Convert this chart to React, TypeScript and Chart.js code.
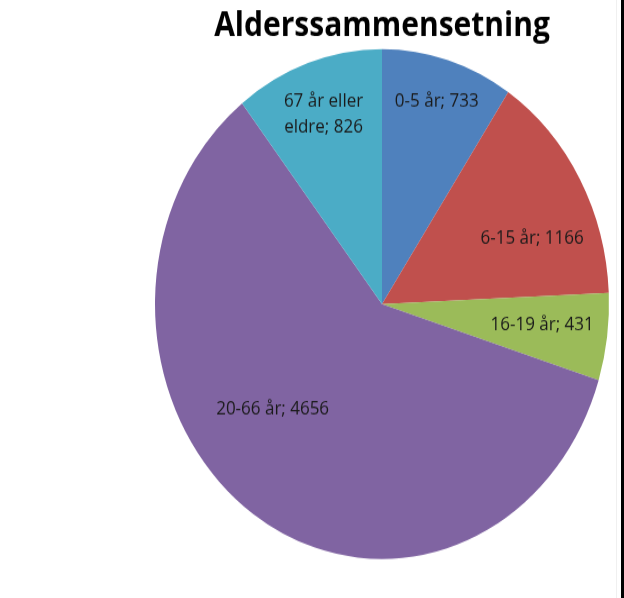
import React, { useEffect, useRef } from "react";
import { Chart, registerables } from "chart.js";

Chart.register(...registerables);

const categories = ["0-5 år", "6-15 år", "16-19 år", "20-66 år", "67 år eller eldre"];
const values = [733, 1166, 431, 4656, 826];
const colors = ["#4F81BD", "#C0504D", "#9BBB59", "#8064A2", "#4BACC6"];
const labelLines = [["0-5 år; 733"], ["6-15 år; 1166"], ["16-19 år; 431"], ["20-66 år; 4656"], ["67 år eller", "eldre; 826"]];
const titleText = "Alderssammensetning";

// label layout: radial fraction and angle offset (deg) per slice
const labelFrac = [0.83, 0.71, 0.71, 0.635, 0.79];
const labelAngleOffset = [0, 8, -1, 14.7, 0];

const W = 624;
const H = 532;
const SCALE_Y = 597.5 / H;

const FONT = "'Open Sans', Lato, sans-serif";

const overlayPlugin = {
  id: "overlay",
  afterDatasetsDraw(chart: any) {
    const ctx = chart.ctx;
    const meta = chart.getDatasetMeta(0);
    ctx.save();
    ctx.fillStyle = "#1a1a1a";
    ctx.textAlign = "center";
    ctx.textBaseline = "middle";
    ctx.font = `17px ${FONT}`;
    meta.data.forEach((arc: any, i: number) => {
      const p = arc.getProps(["x", "y", "startAngle", "endAngle", "outerRadius"], true);
      const mid = (p.startAngle + p.endAngle) / 2 + (labelAngleOffset[i] * Math.PI) / 180;
      const r = p.outerRadius * labelFrac[i];
      const x = p.x + Math.cos(mid) * r;
      const y = p.y + Math.sin(mid) * r;
      const lines = labelLines[i];
      const lh = 23;
      lines.forEach((t, k) => {
        ctx.fillText(t, x, y + (k - (lines.length - 1) / 2) * lh);
      });
    });
    // title
    ctx.font = `bold 30px ${FONT}`;
    ctx.fillStyle = "#000";
    ctx.fillText(titleText, 382, 23);
    ctx.restore();
  },
};

export default function App() {
  const ref = useRef<HTMLCanvasElement>(null);
  useEffect(() => {
    document.body.style.margin = "0";
    document.body.style.overflow = "hidden";
    document.documentElement.style.overflow = "hidden";
    const chart = new Chart(ref.current!, {
      type: "pie",
      data: {
        labels: categories,
        datasets: [
          {
            data: values,
            backgroundColor: colors,
            borderWidth: 0,
          },
        ],
      },
      options: {
        responsive: false,
        animation: false,
        layout: { padding: { top: 43.7, bottom: 34.3, left: 155, right: 15 } },
        plugins: {
          legend: { display: false },
          title: { display: false },
          tooltip: { enabled: false },
        },
      },
      plugins: [overlayPlugin],
    });
    return () => chart.destroy();
  }, []);
  return (
    <div style={{ position: "absolute", left: 0, top: 0, width: 624, height: 598, overflow: "hidden", background: "#fff" }}>
      <div
        style={{
          position: "absolute",
          left: 0,
          top: 0,
          width: W,
          height: H,
          transform: `scaleY(${SCALE_Y})`,
          transformOrigin: "0 0",
        }}
      >
        <canvas ref={ref} width={W} height={H} style={{ width: W, height: H, display: "block" }} />
      </div>
      <div style={{ position: "absolute", left: 616, top: 0, width: 1, height: 598, background: "#f0f0f0" }} />
      <div style={{ position: "absolute", left: 621, top: 0, width: 3, height: 598, background: "#000" }} />
    </div>
  );
}
